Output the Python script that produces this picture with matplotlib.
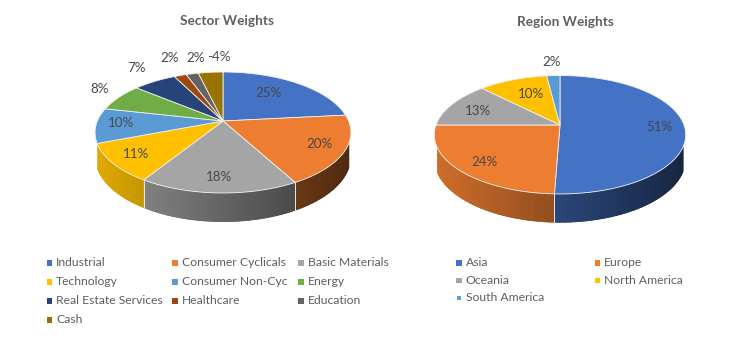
import numpy as np
import matplotlib
matplotlib.use("Agg")
import matplotlib.pyplot as plt
from matplotlib.collections import PolyCollection
from matplotlib.patches import Polygon, Rectangle

plt.rcParams['font.family'] = ['Lato', 'DejaVu Sans']

sector_names = ["Industrial", "Consumer Cyclicals", "Basic Materials", "Technology",
                "Consumer Non-Cyc", "Energy", "Real Estate Services", "Healthcare",
                "Education", "Cash"]
sector_values = [25, 20, 18, 11, 10, 8, 7, 2, 2, 4]
sector_labels = ["25%", "20%", "18%", "11%", "10%", "8%", "7%", "2%", "2%", "-4%"]

region_names = ["Asia", "Europe", "Oceania", "North America", "South America"]
region_values = [50.6, 24.4, 12.6, 10.4, 2.0]
region_labels = ["51%", "24%", "13%", "10%", "2%"]

colors = ["#4472C4", "#ED7D31", "#A5A5A5", "#FFC000", "#5B9BD5",
          "#70AD47", "#264478", "#9E480E", "#636363", "#997300"]

TEXT = "#484848"
TITLE = "#606060"
LEGEND = "#5e5e5e"

fig = plt.figure(figsize=(7.51, 3.59), dpi=100, facecolor="white")
ax = fig.add_axes([0, 0, 1, 1])
ax.set_xlim(0, 751)
ax.set_ylim(359, 0)
ax.axis("off")

WALL_FROM = np.radians(110)
WALL_TO = np.radians(248.5)


def pie3d(values, cx, cy, A, B, p, d, title, title_xy, labels, label_xy):
    def proj(theta):
        X, Y = np.sin(theta), np.cos(theta)
        w = 1 + p * Y
        return cx + A * X / w, cy - B * Y / w, d / w

    edges = np.cumsum([0] + list(values)) / np.sum(values) * 2 * np.pi
    xs_all = proj(np.linspace(0, 2 * np.pi, 721))[0]
    xmin, xmax = xs_all.min(), xs_all.max()

    # side wall, front part only
    for i, v in enumerate(values):
        a, b = max(edges[i], WALL_FROM), min(edges[i + 1], WALL_TO)
        if b <= a:
            continue
        th = np.linspace(a, b, max(3, int(np.degrees(b - a) / 2)))
        x, y, dd = proj(th)
        base = np.array(matplotlib.colors.to_rgb(colors[i]))
        clip_poly = Polygon(list(zip(x, y)) + list(zip(x[::-1], (y + dd)[::-1])),
                            closed=True, transform=ax.transData, facecolor="none",
                            edgecolor="none")
        ax.add_patch(clip_poly)
        polys, cols = [], []
        for j in range(len(th) - 1):
            polys.append([(x[j], y[j]), (x[j + 1], y[j + 1]),
                          (x[j + 1], y[j + 1] + dd[j + 1]), (x[j], y[j] + dd[j])])
            t = (0.5 * (x[j] + x[j + 1]) - xmin) / (xmax - xmin)
            cols.append(base * (0.88 - 0.55 * t))
        pc = PolyCollection(polys, facecolors=cols, edgecolors=cols,
                            linewidths=1.0, zorder=2)
        ax.add_collection(pc)
        pc.set_clip_path(clip_poly)
    # wall separators at the front
    for e in edges:
        if WALL_FROM < e % (2 * np.pi) < WALL_TO:
            x, y, dd = proj(e)
            ax.plot([x, x], [y, y + dd], color="#e8e8e8", lw=0.7, zorder=3)

    # top faces
    for i, v in enumerate(values):
        th = np.linspace(edges[i], edges[i + 1], max(3, int(v * 12)))
        x, y, _ = proj(th)
        pts = [(cx, cy)] + list(zip(x, y))
        ax.add_patch(Polygon(pts, closed=True, facecolor=colors[i],
                             edgecolor="#f0f0f0", lw=0.6, zorder=4))

    for lab, (lx, ly) in zip(labels, label_xy):
        ax.text(lx, ly, lab, ha="center", va="center", fontsize=9.6, color=TEXT, zorder=6)
    ax.text(title_xy[0], title_xy[1], title, ha="center", va="center", fontsize=9.8,
            fontweight="bold", color=TITLE, zorder=6)


def legend(names, col_x, row_y, ncol):
    for i, n in enumerate(names):
        r, c = divmod(i, ncol)
        x, y = col_x[c], row_y[r]
        size = 5.5 if n != "South America" else 3.5
        ax.add_patch(Rectangle((x + (5.5 - size) / 2, y - size / 2), size, size,
                               facecolor=colors[i], edgecolor="none", zorder=5))
        ax.text(x + 9.5, y - 0.3, n, ha="left", va="center", fontsize=8.7, color=LEGEND)


sector_label_xy = [(268, 93), (319, 144), (219, 177), (136, 154), (121, 123),
                   (100, 89), (136, 68), (170, 58), (196, 58), (219, 57)]
region_label_xy = [(659, 127), (484, 162), (478, 111), (531, 94), (552, 62)]

pie3d(sector_values, 223, 121, 125.6, 58.3, 0.19, 23.5,
      "Sector Weights", (227, 21), sector_labels, sector_label_xy)
pie3d(region_values, 560, 125, 124, 57.6, 0.1645, 24.0,
      "Region Weights", (565, 22), region_labels, region_label_xy)

legend(sector_names, [46.5, 172, 298], [263, 282, 301, 320], 3)
legend(region_names, [456, 594.5], [263, 280.5, 298], 2)

fig.savefig("out.png", dpi=100, facecolor="white")
